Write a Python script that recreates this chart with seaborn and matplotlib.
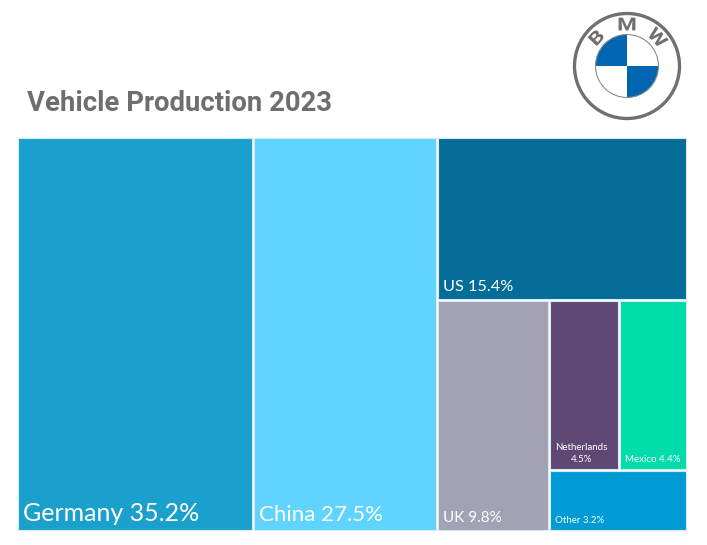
import numpy as np
import matplotlib
matplotlib.use("Agg")
import matplotlib.pyplot as plt
import seaborn as sns
from matplotlib.patches import Rectangle, Circle, Wedge, PathPatch
from matplotlib.textpath import TextPath
from matplotlib.font_manager import FontProperties
from matplotlib.transforms import Affine2D

# data
countries = ["Germany", "China", "US", "UK", "Netherlands", "Mexico", "Other"]
shares = [35.2, 27.5, 15.4, 9.8, 4.5, 4.4, 3.2]
colors = ["#1aa0cc", "#5fd4fe", "#036d97", "#a1a2b3", "#604874", "#00dcaa", "#009bd5"]
label_sizes = [18, 16, 11.7, 11, 7, 7, 7]

# nesting of the treemap: "h" = side by side, "v" = stacked
tree = ("h", [0, 1, ("v", [2, ("h", [3, ("v", [("h", [4, 5]), 6])])])])

sns.set_theme(style="white")
plt.rcParams["font.family"] = ["Lato", "DejaVu Sans"]

fig = plt.figure(figsize=(7.07, 5.45), dpi=100)
ax = fig.add_axes([0, 0, 1, 1])
ax.set_xlim(0, 707)
ax.set_ylim(545, 0)
ax.axis("off")


def node_total(node):
    if isinstance(node, int):
        return shares[node]
    return sum(node_total(c) for c in node[1])


def layout(node, x, y, w, h, out):
    if isinstance(node, int):
        out[node] = (x, y, w, h)
        return
    orient, children = node
    total = node_total(node)
    pos = 0.0
    for c in children:
        frac = node_total(c) / total
        if orient == "h":
            layout(c, x + pos * w, y, frac * w, h, out)
        else:
            layout(c, x, y + pos * h, w, frac * h, out)
        pos += frac


rects = {}
layout(tree, 17, 137, 670, 394, rects)

gap = 1.0
for i, name in enumerate(countries):
    x, y, w, h = rects[i]
    ax.add_patch(Rectangle((x + gap, y + gap), w - 2 * gap, h - 2 * gap,
                           facecolor=colors[i], edgecolor="#d3e9f5", linewidth=0.8))
    if name == "Netherlands":
        txt = f"{name}\n{shares[i]}%"
    else:
        txt = f"{name} {shares[i]}%"
    ax.text(x + 6, y + h - 6, txt, color="white", fontsize=label_sizes[i],
            ha="left", va="bottom", multialignment="center", linespacing=1.4)

# title
fig.text(27 / 707, 1 - 103 / 545, "Vehicle Production 2023", family="Roboto",
         fontweight="bold", fontsize=19.8, color="#6e6e6e", va="center", ha="left")

# BMW roundel
cx, cy, R = 627, 66, 54
lax = fig.add_axes([(cx - R - 2) / 707, 1 - (cy + R + 2) / 545,
                    (2 * R + 4) / 707, (2 * R + 4) / 545])
lax.set_xlim(-R - 2, R + 2)
lax.set_ylim(-R - 2, R + 2)
lax.set_aspect("equal")
lax.axis("off")
lax.add_patch(Circle((0, 0), R - 1.5, facecolor="white", edgecolor="#707070", linewidth=2.4))
r_in = 31.5
blue = "#0066b1"
lax.add_patch(Wedge((0, 0), r_in, 90, 180, facecolor=blue, edgecolor="none"))
lax.add_patch(Wedge((0, 0), r_in, 270, 360, facecolor=blue, edgecolor="none"))
lax.add_patch(Circle((0, 0), r_in, facecolor="none", edgecolor="#8a8a8a", linewidth=0.8))
fp = FontProperties(family="Roboto", weight="bold")
for letter, ang in zip("BMW", [137, 90, 43]):
    tp = TextPath((0, 0), letter, size=18, prop=fp)
    ext = tp.get_extents()
    a = np.deg2rad(ang)
    tr = (Affine2D()
          .translate(-(ext.x0 + ext.x1) / 2, -(ext.y0 + ext.y1) / 2)
          .scale(1.25, 1.0)
          .rotate_deg(ang - 90)
          .translate(42 * np.cos(a), 42 * np.sin(a)))
    lax.add_patch(PathPatch(tr.transform_path(tp), facecolor="#707070", edgecolor="none"))

fig.savefig("out.png", dpi=100)
